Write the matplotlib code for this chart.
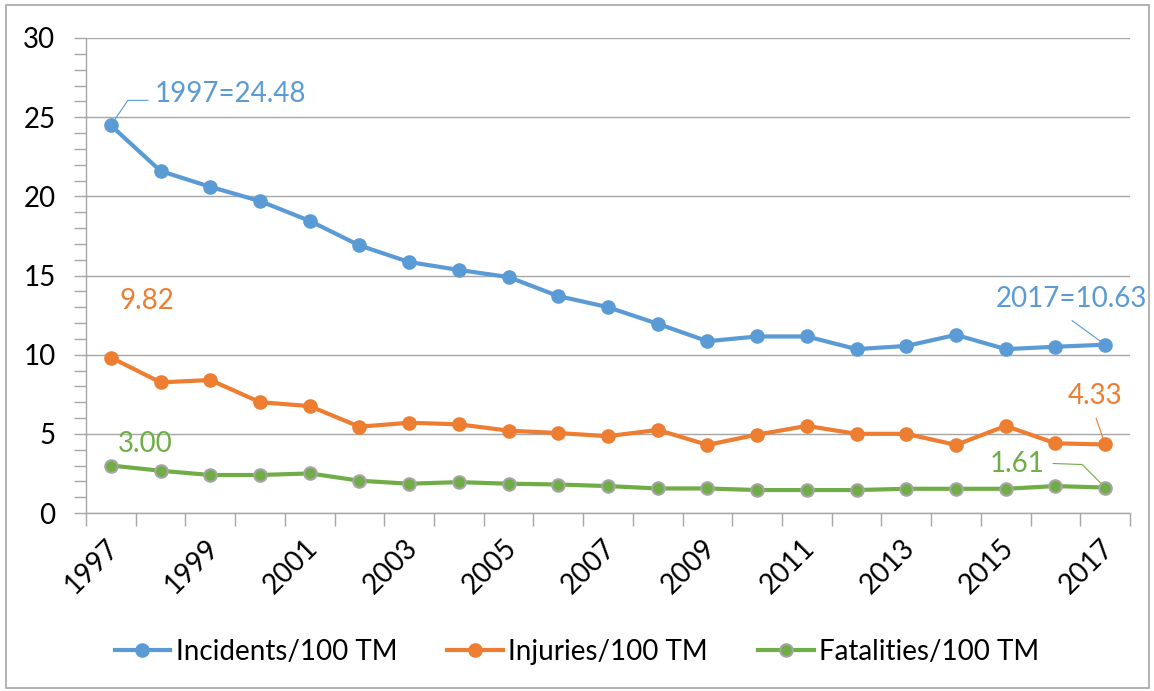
import matplotlib
matplotlib.use('Agg')
import matplotlib.pyplot as plt
import matplotlib.transforms as mtransforms
from matplotlib.patches import Rectangle

years = list(range(1997, 2018))
incidents = [24.48, 21.6, 20.6, 19.7, 18.45, 16.9, 15.85, 15.35, 14.9, 13.7, 13.0,
             11.95, 10.85, 11.15, 11.15, 10.35, 10.55, 11.25, 10.35, 10.5, 10.63]
injuries = [9.82, 8.25, 8.4, 7.0, 6.75, 5.45, 5.7, 5.6, 5.2, 5.05, 4.85,
            5.25, 4.3, 4.95, 5.5, 5.0, 5.0, 4.3, 5.5, 4.4, 4.33]
fatalities = [3.00, 2.67, 2.4, 2.4, 2.5, 2.04, 1.85, 1.95, 1.85, 1.8, 1.7,
              1.55, 1.55, 1.45, 1.45, 1.45, 1.53, 1.53, 1.53, 1.7, 1.61]
labels = ['Incidents/100 TM', 'Injuries/100 TM', 'Fatalities/100 TM']

BLUE = '#5B9BD5'
ORANGE = '#ED7D31'
GREEN = '#70AD47'
GRID = '#A6A6A6'

plt.rcParams['font.family'] = ['Lato', 'DejaVu Sans']

fig = plt.figure(figsize=(11.54, 6.91), dpi=100)
ax = fig.add_axes([86 / 1154, 1 - 513 / 691, (1130 - 86) / 1154, (513 - 38) / 691])

x = list(range(len(years)))
ax.plot(x, incidents, color=BLUE, lw=3, marker='o', ms=9.5, label=labels[0], zorder=4)
ax.plot(x, injuries, color=ORANGE, lw=3, marker='o', ms=9.5, label=labels[1], zorder=4)
ax.plot(x, fatalities, color=GREEN, lw=3, marker='o', ms=9, mec='#A5A5A5', mew=1.5,
        label=labels[2], zorder=4)

ax.set_xlim(-0.5, len(years) - 0.5)
ax.set_ylim(0, 30)
ax.set_yticks(range(0, 31, 5))
ax.set_yticks(range(0, 31), minor=True)
ax.set_xticks(x[::2])
ax.set_xticklabels([str(y) for y in years[::2]], rotation=45, ha='right',
                   va='center', rotation_mode='anchor')
ax.set_xticks([i - 0.5 for i in range(len(years) + 1)], minor=True)

ax.tick_params(axis='y', which='both', length=9, width=1, color=GRID, labelsize=20, pad=13)
ax.tick_params(axis='x', which='major', length=0, labelsize=20, pad=22)
ax.tick_params(axis='x', which='minor', length=9, width=1, color=GRID)
for t in ax.get_xticklabels():
    t.set_transform(t.get_transform() + mtransforms.Affine2D().translate(4, 0))

ax.grid(axis='y', which='major', color=GRID, lw=1)
ax.set_axisbelow(True)
for s in ['top', 'right']:
    ax.spines[s].set_visible(False)
for s in ['left', 'bottom']:
    ax.spines[s].set_color(GRID)
    ax.spines[s].set_linewidth(1)

# data labels: (series, index, text, color, text offset px, leader offsets px)
notes = [
    (incidents, 0, '1997=24.48', BLUE, (44, 31), 'left', [(0, 0), (17, 25), (37, 25)]),
    (injuries, 0, '9.82', ORANGE, (36, 57), 'center', None),
    (fatalities, 0, '3.00', GREEN, (34, 21), 'center', None),
    (incidents, 20, '2017=10.63', BLUE, (-34, 46), 'center', [(0, 0), (-33, 24)]),
    (injuries, 20, '4.33', ORANGE, (-10, 48), 'center', [(0, 0), (-9, 26)]),
    (fatalities, 20, '1.61', GREEN, (-88, 24), 'center', [(0, 0), (-23, 23), (-52, 24)]),
]
for series, i, txt, col, off, ha, leader in notes:
    ax.annotate(txt, xy=(i, series[i]), xytext=off, textcoords='offset pixels',
                ha=ha, va='center', color=col, fontsize=20)
    if leader:
        px, py = ax.transData.transform((i, series[i]))
        tr = mtransforms.Affine2D().translate(px, py)
        ax.plot([p[0] for p in leader], [p[1] for p in leader], color=col, lw=0.8,
                transform=tr, clip_on=False, zorder=3)

ax.legend(loc='center', bbox_to_anchor=(0.5, (691 - 652) / 691), bbox_transform=fig.transFigure,
          ncol=3, frameon=False, fontsize=20, handlelength=2.0, columnspacing=1.8,
          handletextpad=0.2)

fig.patches.append(Rectangle((6 / 1154, 3 / 691), 1143 / 1154, 683 / 691,
                             transform=fig.transFigure, fill=False, ec=GRID, lw=1.2))

fig.savefig('out.png', dpi=100)
